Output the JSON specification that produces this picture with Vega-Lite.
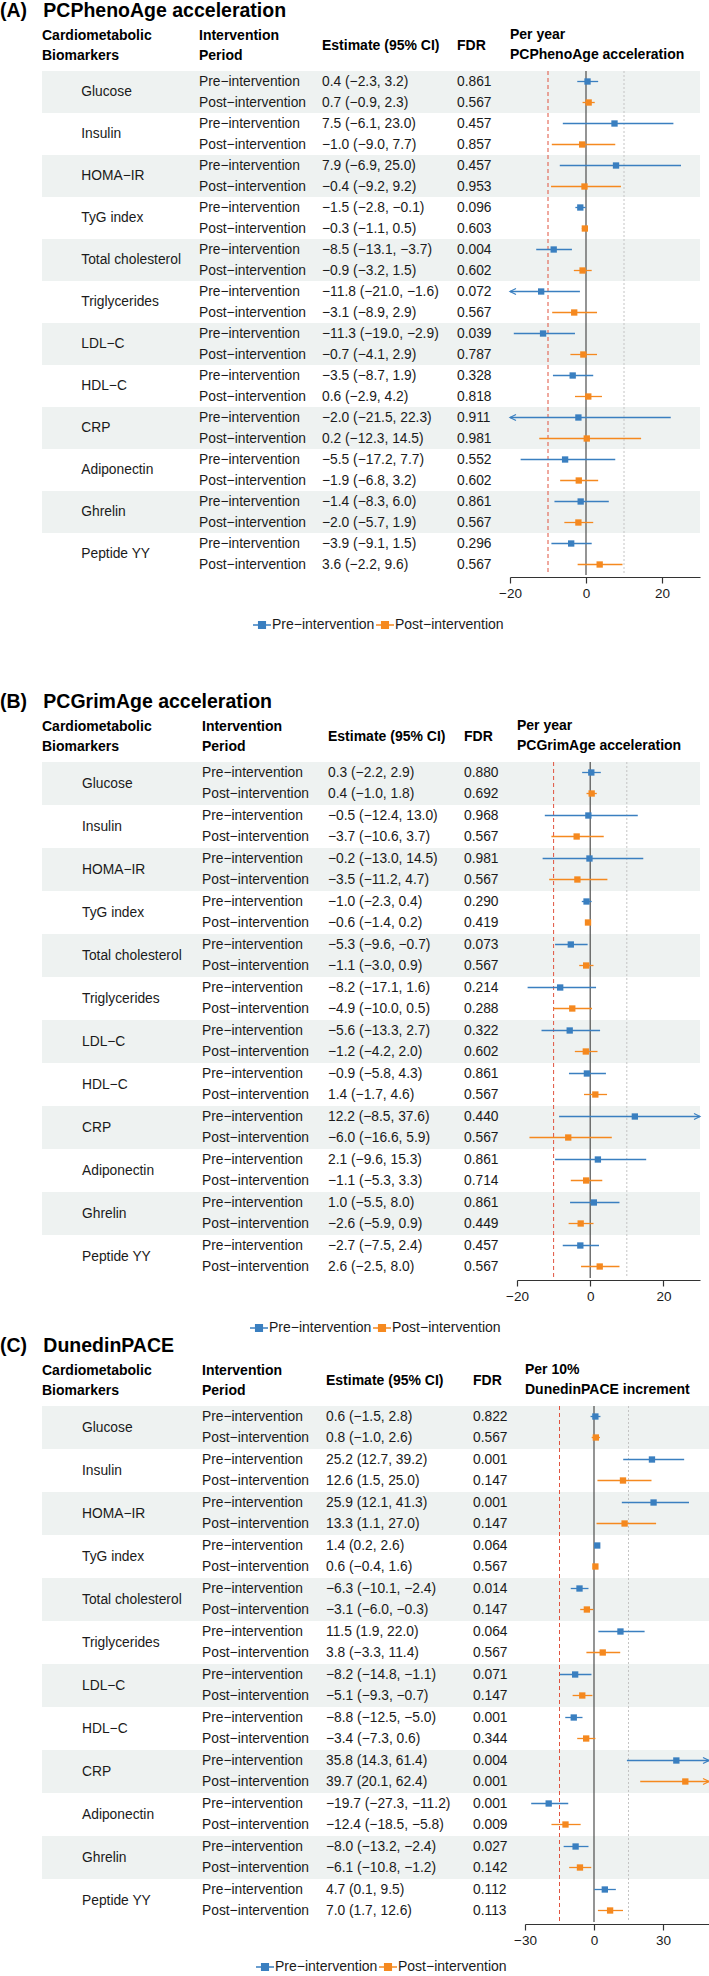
{
  "$schema": "https://vega.github.io/schema/vega-lite/v6.json",
  "padding": {"left": 0, "top": 0, "right": 0, "bottom": 0},
  "autosize": {"type": "pad"},
  "background": "white",
  "config": {
    "view": {"stroke": null},
    "axis": {"labelOverlap": false},
    "axisX": {"title": null, "grid": false, "domainColor": "#333333", "domainWidth": 1.2, "tickColor": "#333333", "tickWidth": 1.2, "tickSize": 6, "labelFontSize": 13.5, "labelFont": "Liberation Sans", "labelColor": "#1a1a1a", "labelPadding": 3, "offset": 2, "labelFlush": false, "labelOverlap": false}
  },
  "datasets": {
    "A": [
      {"biomarker": "Glucose", "period": "Pre−intervention", "estimate": 0.4, "lower": -2.3, "upper": 3.2, "ci": "0.4 (−2.3, 3.2)", "fdr": 0.861},
      {"biomarker": "Glucose", "period": "Post−intervention", "estimate": 0.7, "lower": -0.9, "upper": 2.3, "ci": "0.7 (−0.9, 2.3)", "fdr": 0.567},
      {"biomarker": "Insulin", "period": "Pre−intervention", "estimate": 7.5, "lower": -6.1, "upper": 23.0, "ci": "7.5 (−6.1, 23.0)", "fdr": 0.457},
      {"biomarker": "Insulin", "period": "Post−intervention", "estimate": -1.0, "lower": -9.0, "upper": 7.7, "ci": "−1.0 (−9.0, 7.7)", "fdr": 0.857},
      {"biomarker": "HOMA−IR", "period": "Pre−intervention", "estimate": 7.9, "lower": -6.9, "upper": 25.0, "ci": "7.9 (−6.9, 25.0)", "fdr": 0.457},
      {"biomarker": "HOMA−IR", "period": "Post−intervention", "estimate": -0.4, "lower": -9.2, "upper": 9.2, "ci": "−0.4 (−9.2, 9.2)", "fdr": 0.953},
      {"biomarker": "TyG index", "period": "Pre−intervention", "estimate": -1.5, "lower": -2.8, "upper": -0.1, "ci": "−1.5 (−2.8, −0.1)", "fdr": 0.096},
      {"biomarker": "TyG index", "period": "Post−intervention", "estimate": -0.3, "lower": -1.1, "upper": 0.5, "ci": "−0.3 (−1.1, 0.5)", "fdr": 0.603},
      {"biomarker": "Total cholesterol", "period": "Pre−intervention", "estimate": -8.5, "lower": -13.1, "upper": -3.7, "ci": "−8.5 (−13.1, −3.7)", "fdr": 0.004},
      {"biomarker": "Total cholesterol", "period": "Post−intervention", "estimate": -0.9, "lower": -3.2, "upper": 1.5, "ci": "−0.9 (−3.2, 1.5)", "fdr": 0.602},
      {"biomarker": "Triglycerides", "period": "Pre−intervention", "estimate": -11.8, "lower": -21.0, "upper": -1.6, "ci": "−11.8 (−21.0, −1.6)", "fdr": 0.072},
      {"biomarker": "Triglycerides", "period": "Post−intervention", "estimate": -3.1, "lower": -8.9, "upper": 2.9, "ci": "−3.1 (−8.9, 2.9)", "fdr": 0.567},
      {"biomarker": "LDL−C", "period": "Pre−intervention", "estimate": -11.3, "lower": -19.0, "upper": -2.9, "ci": "−11.3 (−19.0, −2.9)", "fdr": 0.039},
      {"biomarker": "LDL−C", "period": "Post−intervention", "estimate": -0.7, "lower": -4.1, "upper": 2.9, "ci": "−0.7 (−4.1, 2.9)", "fdr": 0.787},
      {"biomarker": "HDL−C", "period": "Pre−intervention", "estimate": -3.5, "lower": -8.7, "upper": 1.9, "ci": "−3.5 (−8.7, 1.9)", "fdr": 0.328},
      {"biomarker": "HDL−C", "period": "Post−intervention", "estimate": 0.6, "lower": -2.9, "upper": 4.2, "ci": "0.6 (−2.9, 4.2)", "fdr": 0.818},
      {"biomarker": "CRP", "period": "Pre−intervention", "estimate": -2.0, "lower": -21.5, "upper": 22.3, "ci": "−2.0 (−21.5, 22.3)", "fdr": 0.911},
      {"biomarker": "CRP", "period": "Post−intervention", "estimate": 0.2, "lower": -12.3, "upper": 14.5, "ci": "0.2 (−12.3, 14.5)", "fdr": 0.981},
      {"biomarker": "Adiponectin", "period": "Pre−intervention", "estimate": -5.5, "lower": -17.2, "upper": 7.7, "ci": "−5.5 (−17.2, 7.7)", "fdr": 0.552},
      {"biomarker": "Adiponectin", "period": "Post−intervention", "estimate": -1.9, "lower": -6.8, "upper": 3.2, "ci": "−1.9 (−6.8, 3.2)", "fdr": 0.602},
      {"biomarker": "Ghrelin", "period": "Pre−intervention", "estimate": -1.4, "lower": -8.3, "upper": 6.0, "ci": "−1.4 (−8.3, 6.0)", "fdr": 0.861},
      {"biomarker": "Ghrelin", "period": "Post−intervention", "estimate": -2.0, "lower": -5.7, "upper": 1.9, "ci": "−2.0 (−5.7, 1.9)", "fdr": 0.567},
      {"biomarker": "Peptide YY", "period": "Pre−intervention", "estimate": -3.9, "lower": -9.1, "upper": 1.5, "ci": "−3.9 (−9.1, 1.5)", "fdr": 0.296},
      {"biomarker": "Peptide YY", "period": "Post−intervention", "estimate": 3.6, "lower": -2.2, "upper": 9.6, "ci": "3.6 (−2.2, 9.6)", "fdr": 0.567}
    ],
    "B": [
      {"biomarker": "Glucose", "period": "Pre−intervention", "estimate": 0.3, "lower": -2.2, "upper": 2.9, "ci": "0.3 (−2.2, 2.9)", "fdr": 0.880},
      {"biomarker": "Glucose", "period": "Post−intervention", "estimate": 0.4, "lower": -1.0, "upper": 1.8, "ci": "0.4 (−1.0, 1.8)", "fdr": 0.692},
      {"biomarker": "Insulin", "period": "Pre−intervention", "estimate": -0.5, "lower": -12.4, "upper": 13.0, "ci": "−0.5 (−12.4, 13.0)", "fdr": 0.968},
      {"biomarker": "Insulin", "period": "Post−intervention", "estimate": -3.7, "lower": -10.6, "upper": 3.7, "ci": "−3.7 (−10.6, 3.7)", "fdr": 0.567},
      {"biomarker": "HOMA−IR", "period": "Pre−intervention", "estimate": -0.2, "lower": -13.0, "upper": 14.5, "ci": "−0.2 (−13.0, 14.5)", "fdr": 0.981},
      {"biomarker": "HOMA−IR", "period": "Post−intervention", "estimate": -3.5, "lower": -11.2, "upper": 4.7, "ci": "−3.5 (−11.2, 4.7)", "fdr": 0.567},
      {"biomarker": "TyG index", "period": "Pre−intervention", "estimate": -1.0, "lower": -2.3, "upper": 0.4, "ci": "−1.0 (−2.3, 0.4)", "fdr": 0.290},
      {"biomarker": "TyG index", "period": "Post−intervention", "estimate": -0.6, "lower": -1.4, "upper": 0.2, "ci": "−0.6 (−1.4, 0.2)", "fdr": 0.419},
      {"biomarker": "Total cholesterol", "period": "Pre−intervention", "estimate": -5.3, "lower": -9.6, "upper": -0.7, "ci": "−5.3 (−9.6, −0.7)", "fdr": 0.073},
      {"biomarker": "Total cholesterol", "period": "Post−intervention", "estimate": -1.1, "lower": -3.0, "upper": 0.9, "ci": "−1.1 (−3.0, 0.9)", "fdr": 0.567},
      {"biomarker": "Triglycerides", "period": "Pre−intervention", "estimate": -8.2, "lower": -17.1, "upper": 1.6, "ci": "−8.2 (−17.1, 1.6)", "fdr": 0.214},
      {"biomarker": "Triglycerides", "period": "Post−intervention", "estimate": -4.9, "lower": -10.0, "upper": 0.5, "ci": "−4.9 (−10.0, 0.5)", "fdr": 0.288},
      {"biomarker": "LDL−C", "period": "Pre−intervention", "estimate": -5.6, "lower": -13.3, "upper": 2.7, "ci": "−5.6 (−13.3, 2.7)", "fdr": 0.322},
      {"biomarker": "LDL−C", "period": "Post−intervention", "estimate": -1.2, "lower": -4.2, "upper": 2.0, "ci": "−1.2 (−4.2, 2.0)", "fdr": 0.602},
      {"biomarker": "HDL−C", "period": "Pre−intervention", "estimate": -0.9, "lower": -5.8, "upper": 4.3, "ci": "−0.9 (−5.8, 4.3)", "fdr": 0.861},
      {"biomarker": "HDL−C", "period": "Post−intervention", "estimate": 1.4, "lower": -1.7, "upper": 4.6, "ci": "1.4 (−1.7, 4.6)", "fdr": 0.567},
      {"biomarker": "CRP", "period": "Pre−intervention", "estimate": 12.2, "lower": -8.5, "upper": 37.6, "ci": "12.2 (−8.5, 37.6)", "fdr": 0.440},
      {"biomarker": "CRP", "period": "Post−intervention", "estimate": -6.0, "lower": -16.6, "upper": 5.9, "ci": "−6.0 (−16.6, 5.9)", "fdr": 0.567},
      {"biomarker": "Adiponectin", "period": "Pre−intervention", "estimate": 2.1, "lower": -9.6, "upper": 15.3, "ci": "2.1 (−9.6, 15.3)", "fdr": 0.861},
      {"biomarker": "Adiponectin", "period": "Post−intervention", "estimate": -1.1, "lower": -5.3, "upper": 3.3, "ci": "−1.1 (−5.3, 3.3)", "fdr": 0.714},
      {"biomarker": "Ghrelin", "period": "Pre−intervention", "estimate": 1.0, "lower": -5.5, "upper": 8.0, "ci": "1.0 (−5.5, 8.0)", "fdr": 0.861},
      {"biomarker": "Ghrelin", "period": "Post−intervention", "estimate": -2.6, "lower": -5.9, "upper": 0.9, "ci": "−2.6 (−5.9, 0.9)", "fdr": 0.449},
      {"biomarker": "Peptide YY", "period": "Pre−intervention", "estimate": -2.7, "lower": -7.5, "upper": 2.4, "ci": "−2.7 (−7.5, 2.4)", "fdr": 0.457},
      {"biomarker": "Peptide YY", "period": "Post−intervention", "estimate": 2.6, "lower": -2.5, "upper": 8.0, "ci": "2.6 (−2.5, 8.0)", "fdr": 0.567}
    ],
    "C": [
      {"biomarker": "Glucose", "period": "Pre−intervention", "estimate": 0.6, "lower": -1.5, "upper": 2.8, "ci": "0.6 (−1.5, 2.8)", "fdr": 0.822},
      {"biomarker": "Glucose", "period": "Post−intervention", "estimate": 0.8, "lower": -1.0, "upper": 2.6, "ci": "0.8 (−1.0, 2.6)", "fdr": 0.567},
      {"biomarker": "Insulin", "period": "Pre−intervention", "estimate": 25.2, "lower": 12.7, "upper": 39.2, "ci": "25.2 (12.7, 39.2)", "fdr": 0.001},
      {"biomarker": "Insulin", "period": "Post−intervention", "estimate": 12.6, "lower": 1.5, "upper": 25.0, "ci": "12.6 (1.5, 25.0)", "fdr": 0.147},
      {"biomarker": "HOMA−IR", "period": "Pre−intervention", "estimate": 25.9, "lower": 12.1, "upper": 41.3, "ci": "25.9 (12.1, 41.3)", "fdr": 0.001},
      {"biomarker": "HOMA−IR", "period": "Post−intervention", "estimate": 13.3, "lower": 1.1, "upper": 27.0, "ci": "13.3 (1.1, 27.0)", "fdr": 0.147},
      {"biomarker": "TyG index", "period": "Pre−intervention", "estimate": 1.4, "lower": 0.2, "upper": 2.6, "ci": "1.4 (0.2, 2.6)", "fdr": 0.064},
      {"biomarker": "TyG index", "period": "Post−intervention", "estimate": 0.6, "lower": -0.4, "upper": 1.6, "ci": "0.6 (−0.4, 1.6)", "fdr": 0.567},
      {"biomarker": "Total cholesterol", "period": "Pre−intervention", "estimate": -6.3, "lower": -10.1, "upper": -2.4, "ci": "−6.3 (−10.1, −2.4)", "fdr": 0.014},
      {"biomarker": "Total cholesterol", "period": "Post−intervention", "estimate": -3.1, "lower": -6.0, "upper": -0.3, "ci": "−3.1 (−6.0, −0.3)", "fdr": 0.147},
      {"biomarker": "Triglycerides", "period": "Pre−intervention", "estimate": 11.5, "lower": 1.9, "upper": 22.0, "ci": "11.5 (1.9, 22.0)", "fdr": 0.064},
      {"biomarker": "Triglycerides", "period": "Post−intervention", "estimate": 3.8, "lower": -3.3, "upper": 11.4, "ci": "3.8 (−3.3, 11.4)", "fdr": 0.567},
      {"biomarker": "LDL−C", "period": "Pre−intervention", "estimate": -8.2, "lower": -14.8, "upper": -1.1, "ci": "−8.2 (−14.8, −1.1)", "fdr": 0.071},
      {"biomarker": "LDL−C", "period": "Post−intervention", "estimate": -5.1, "lower": -9.3, "upper": -0.7, "ci": "−5.1 (−9.3, −0.7)", "fdr": 0.147},
      {"biomarker": "HDL−C", "period": "Pre−intervention", "estimate": -8.8, "lower": -12.5, "upper": -5.0, "ci": "−8.8 (−12.5, −5.0)", "fdr": 0.001},
      {"biomarker": "HDL−C", "period": "Post−intervention", "estimate": -3.4, "lower": -7.3, "upper": 0.6, "ci": "−3.4 (−7.3, 0.6)", "fdr": 0.344},
      {"biomarker": "CRP", "period": "Pre−intervention", "estimate": 35.8, "lower": 14.3, "upper": 61.4, "ci": "35.8 (14.3, 61.4)", "fdr": 0.004},
      {"biomarker": "CRP", "period": "Post−intervention", "estimate": 39.7, "lower": 20.1, "upper": 62.4, "ci": "39.7 (20.1, 62.4)", "fdr": 0.001},
      {"biomarker": "Adiponectin", "period": "Pre−intervention", "estimate": -19.7, "lower": -27.3, "upper": -11.2, "ci": "−19.7 (−27.3, −11.2)", "fdr": 0.001},
      {"biomarker": "Adiponectin", "period": "Post−intervention", "estimate": -12.4, "lower": -18.5, "upper": -5.8, "ci": "−12.4 (−18.5, −5.8)", "fdr": 0.009},
      {"biomarker": "Ghrelin", "period": "Pre−intervention", "estimate": -8.0, "lower": -13.2, "upper": -2.4, "ci": "−8.0 (−13.2, −2.4)", "fdr": 0.027},
      {"biomarker": "Ghrelin", "period": "Post−intervention", "estimate": -6.1, "lower": -10.8, "upper": -1.2, "ci": "−6.1 (−10.8, −1.2)", "fdr": 0.142},
      {"biomarker": "Peptide YY", "period": "Pre−intervention", "estimate": 4.7, "lower": 0.1, "upper": 9.5, "ci": "4.7 (0.1, 9.5)", "fdr": 0.112},
      {"biomarker": "Peptide YY", "period": "Post−intervention", "estimate": 7.0, "lower": 1.7, "upper": 12.6, "ci": "7.0 (1.7, 12.6)", "fdr": 0.113}
    ]
  },
  "bounds": "full",
  "spacing": 59,
  "resolve": {"scale": {"color": "independent"}, "legend": {"color": "independent"}},
  "vconcat": [
    {
      "data": {"name": "A"},
      "title": {"text": "(A)\u00a0\u00a0\u00a0PCPhenoAge acceleration", "anchor": "start", "frame": "group", "dx": -42, "offset": -12, "font": "Liberation Sans", "fontSize": 19.5, "fontWeight": "bold", "color": "#000000", "baseline": "bottom"},
      "bounds": "flush",
      "spacing": 0,
      "resolve": {"scale": {"color": "independent"}, "legend": {"color": "independent"}},
      "hconcat": [
        {
          "width": 157, "height": 504,
          "title": {"text": ["Cardiometabolic", "Biomarkers"], "anchor": "start", "frame": "group", "offset": -6, "font": "Liberation Sans", "fontSize": 14, "fontWeight": "bold", "color": "#000000", "baseline": "bottom", "lineHeight": 20},
          "layer": [
            {"transform": [{"filter": {"field": "biomarker", "oneOf": ["Glucose", "HOMA−IR", "Total cholesterol", "LDL−C", "CRP", "Ghrelin"]}}, {"filter": {"field": "period", "equal": "Pre−intervention"}}],
             "mark": {"type": "rect", "color": "#eef2f1"},
             "encoding": {"x": {"datum": 0, "type": "quantitative", "scale": {"domain": [0, 1], "nice": false}, "axis": null}, "x2": {"datum": 1}, "y": {"field": "biomarker", "type": "nominal", "axis": null, "scale": {"domain": ["Glucose", "Insulin", "HOMA−IR", "TyG index", "Total cholesterol", "Triglycerides", "LDL−C", "HDL−C", "CRP", "Adiponectin", "Ghrelin", "Peptide YY"], "paddingInner": 0, "paddingOuter": 0}}}},
            {"transform": [{"filter": {"field": "period", "equal": "Pre−intervention"}}],
             "mark": {"type": "text", "align": "left", "baseline": "middle", "font": "Liberation Sans", "fontSize": 13.8, "color": "#1a1a1a"},
             "encoding": {"x": {"datum": 0.25, "type": "quantitative", "scale": {"domain": [0, 1], "nice": false}, "axis": null}, "y": {"field": "biomarker", "type": "nominal", "axis": null, "scale": {"domain": ["Glucose", "Insulin", "HOMA−IR", "TyG index", "Total cholesterol", "Triglycerides", "LDL−C", "HDL−C", "CRP", "Adiponectin", "Ghrelin", "Peptide YY"], "paddingInner": 0, "paddingOuter": 0}}, "text": {"field": "biomarker", "type": "nominal"}}}
          ]
        },
        {
          "width": 123, "height": 504,
          "title": {"text": ["Intervention", "Period"], "anchor": "start", "frame": "group", "offset": -6, "font": "Liberation Sans", "fontSize": 14, "fontWeight": "bold", "color": "#000000", "baseline": "bottom", "lineHeight": 20},
          "layer": [
            {"transform": [{"filter": {"field": "biomarker", "oneOf": ["Glucose", "HOMA−IR", "Total cholesterol", "LDL−C", "CRP", "Ghrelin"]}}, {"filter": {"field": "period", "equal": "Pre−intervention"}}],
             "mark": {"type": "rect", "color": "#eef2f1"},
             "encoding": {"x": {"datum": 0, "type": "quantitative", "scale": {"domain": [0, 1], "nice": false}, "axis": null}, "x2": {"datum": 1}, "y": {"field": "biomarker", "type": "nominal", "axis": null, "scale": {"domain": ["Glucose", "Insulin", "HOMA−IR", "TyG index", "Total cholesterol", "Triglycerides", "LDL−C", "HDL−C", "CRP", "Adiponectin", "Ghrelin", "Peptide YY"], "paddingInner": 0, "paddingOuter": 0}}}},
            {"mark": {"type": "text", "align": "left", "baseline": "middle", "font": "Liberation Sans", "fontSize": 13.8, "color": "#1a1a1a"},
             "encoding": {"x": {"datum": 0, "type": "quantitative", "scale": {"domain": [0, 1], "nice": false}, "axis": null}, "y": {"field": "biomarker", "type": "nominal", "axis": null, "scale": {"domain": ["Glucose", "Insulin", "HOMA−IR", "TyG index", "Total cholesterol", "Triglycerides", "LDL−C", "HDL−C", "CRP", "Adiponectin", "Ghrelin", "Peptide YY"], "paddingInner": 0, "paddingOuter": 0}}, "yOffset": {"field": "period", "type": "nominal", "scale": {"domain": ["Pre−intervention", "Post−intervention"], "paddingInner": 0, "paddingOuter": 0}}, "text": {"field": "period", "type": "nominal"}}}
          ]
        },
        {
          "width": 135, "height": 504,
          "title": {"text": "Estimate (95% CI)", "anchor": "start", "frame": "group", "offset": 4, "font": "Liberation Sans", "fontSize": 14, "fontWeight": "bold", "color": "#000000", "baseline": "bottom"},
          "layer": [
            {"transform": [{"filter": {"field": "biomarker", "oneOf": ["Glucose", "HOMA−IR", "Total cholesterol", "LDL−C", "CRP", "Ghrelin"]}}, {"filter": {"field": "period", "equal": "Pre−intervention"}}],
             "mark": {"type": "rect", "color": "#eef2f1"},
             "encoding": {"x": {"datum": 0, "type": "quantitative", "scale": {"domain": [0, 1], "nice": false}, "axis": null}, "x2": {"datum": 1}, "y": {"field": "biomarker", "type": "nominal", "axis": null, "scale": {"domain": ["Glucose", "Insulin", "HOMA−IR", "TyG index", "Total cholesterol", "Triglycerides", "LDL−C", "HDL−C", "CRP", "Adiponectin", "Ghrelin", "Peptide YY"], "paddingInner": 0, "paddingOuter": 0}}}},
            {"mark": {"type": "text", "align": "left", "baseline": "middle", "font": "Liberation Sans", "fontSize": 13.8, "color": "#1a1a1a"},
             "encoding": {"x": {"datum": 0, "type": "quantitative", "scale": {"domain": [0, 1], "nice": false}, "axis": null}, "y": {"field": "biomarker", "type": "nominal", "axis": null, "scale": {"domain": ["Glucose", "Insulin", "HOMA−IR", "TyG index", "Total cholesterol", "Triglycerides", "LDL−C", "HDL−C", "CRP", "Adiponectin", "Ghrelin", "Peptide YY"], "paddingInner": 0, "paddingOuter": 0}}, "yOffset": {"field": "period", "type": "nominal", "scale": {"domain": ["Pre−intervention", "Post−intervention"], "paddingInner": 0, "paddingOuter": 0}}, "text": {"field": "ci", "type": "nominal"}}}
          ]
        },
        {
          "width": 53, "height": 504,
          "title": {"text": "FDR", "anchor": "start", "frame": "group", "offset": 4, "font": "Liberation Sans", "fontSize": 14, "fontWeight": "bold", "color": "#000000", "baseline": "bottom"},
          "layer": [
            {"transform": [{"filter": {"field": "biomarker", "oneOf": ["Glucose", "HOMA−IR", "Total cholesterol", "LDL−C", "CRP", "Ghrelin"]}}, {"filter": {"field": "period", "equal": "Pre−intervention"}}],
             "mark": {"type": "rect", "color": "#eef2f1"},
             "encoding": {"x": {"datum": 0, "type": "quantitative", "scale": {"domain": [0, 1], "nice": false}, "axis": null}, "x2": {"datum": 1}, "y": {"field": "biomarker", "type": "nominal", "axis": null, "scale": {"domain": ["Glucose", "Insulin", "HOMA−IR", "TyG index", "Total cholesterol", "Triglycerides", "LDL−C", "HDL−C", "CRP", "Adiponectin", "Ghrelin", "Peptide YY"], "paddingInner": 0, "paddingOuter": 0}}}},
            {"mark": {"type": "text", "align": "left", "baseline": "middle", "font": "Liberation Sans", "fontSize": 13.8, "color": "#1a1a1a"},
             "encoding": {"x": {"datum": 0, "type": "quantitative", "scale": {"domain": [0, 1], "nice": false}, "axis": null}, "y": {"field": "biomarker", "type": "nominal", "axis": null, "scale": {"domain": ["Glucose", "Insulin", "HOMA−IR", "TyG index", "Total cholesterol", "Triglycerides", "LDL−C", "HDL−C", "CRP", "Adiponectin", "Ghrelin", "Peptide YY"], "paddingInner": 0, "paddingOuter": 0}}, "yOffset": {"field": "period", "type": "nominal", "scale": {"domain": ["Pre−intervention", "Post−intervention"], "paddingInner": 0, "paddingOuter": 0}}, "text": {"field": "fdr", "type": "quantitative", "format": ".3f"}}}
          ]
        },
        {
          "width": 190, "height": 504,
          "title": {"text": ["Per year", "PCPhenoAge acceleration"], "anchor": "start", "frame": "group", "offset": -6, "font": "Liberation Sans", "fontSize": 14, "fontWeight": "bold", "color": "#000000", "baseline": "bottom", "lineHeight": 20},
          "layer": [
            {"transform": [{"filter": {"field": "biomarker", "oneOf": ["Glucose", "HOMA−IR", "Total cholesterol", "LDL−C", "CRP", "Ghrelin"]}}, {"filter": {"field": "period", "equal": "Pre−intervention"}}],
             "mark": {"type": "rect", "color": "#eef2f1"},
             "encoding": {"x": {"datum": -20, "type": "quantitative", "scale": {"domain": [-20, 30], "nice": false, "zero": false, "clamp": true}, "axis": {"values": [-20, -10, 0, 10, 20, 30], "labelOverlap": false}}, "x2": {"datum": 30}, "y": {"field": "biomarker", "type": "nominal", "axis": null, "scale": {"domain": ["Glucose", "Insulin", "HOMA−IR", "TyG index", "Total cholesterol", "Triglycerides", "LDL−C", "HDL−C", "CRP", "Adiponectin", "Ghrelin", "Peptide YY"], "paddingInner": 0, "paddingOuter": 0}}}},
            {"transform": [{"aggregate": [{"op": "count", "as": "n"}]}], "mark": {"type": "rule", "color": "#e0533f", "strokeWidth": 1, "strokeDash": [4, 3]}, "encoding": {"x": {"datum": -10, "type": "quantitative"}}},
            {"transform": [{"aggregate": [{"op": "count", "as": "n"}]}], "mark": {"type": "rule", "color": "#c4c4c4", "strokeWidth": 1, "strokeDash": [2, 2]}, "encoding": {"x": {"datum": 10, "type": "quantitative"}}},
            {"transform": [{"aggregate": [{"op": "count", "as": "n"}]}], "mark": {"type": "rule", "color": "#4d4d4d", "strokeWidth": 1.2}, "encoding": {"x": {"datum": 0, "type": "quantitative"}}},
            {"mark": {"type": "point", "shape": "square", "filled": true, "opacity": 1, "size": 40},
             "encoding": {"x": {"field": "estimate", "type": "quantitative", "scale": {"domain": [-20, 30], "nice": false, "zero": false, "clamp": true}, "axis": {"values": [-20, -10, 0, 10, 20, 30], "labelOverlap": false}}, "y": {"field": "biomarker", "type": "nominal", "axis": null, "scale": {"domain": ["Glucose", "Insulin", "HOMA−IR", "TyG index", "Total cholesterol", "Triglycerides", "LDL−C", "HDL−C", "CRP", "Adiponectin", "Ghrelin", "Peptide YY"], "paddingInner": 0, "paddingOuter": 0}}, "yOffset": {"field": "period", "type": "nominal", "scale": {"domain": ["Pre−intervention", "Post−intervention"], "paddingInner": 0, "paddingOuter": 0}}, "color": {"field": "period", "type": "nominal", "scale": {"domain": ["Pre−intervention", "Post−intervention"], "range": ["#3a7fc0", "#f5891f"]}, "legend": {"orient": "none", "legendX": -257, "legendY": 545, "direction": "horizontal", "title": null, "symbolType": "M-1,-0.09H1V0.09H-1Z M-0.45,-0.45H0.45V0.45H-0.45Z", "symbolSize": 324, "symbolStrokeWidth": 0, "symbolOpacity": 1, "labelFont": "Liberation Sans", "labelFontSize": 14, "labelColor": "#1a1a1a", "labelOffset": 1, "columnPadding": 1}}}},
            {"mark": {"type": "rule", "strokeWidth": 1.3},
             "encoding": {"x": {"field": "lower", "type": "quantitative"}, "x2": {"field": "upper"}, "y": {"field": "biomarker", "type": "nominal", "axis": null, "scale": {"domain": ["Glucose", "Insulin", "HOMA−IR", "TyG index", "Total cholesterol", "Triglycerides", "LDL−C", "HDL−C", "CRP", "Adiponectin", "Ghrelin", "Peptide YY"], "paddingInner": 0, "paddingOuter": 0}}, "yOffset": {"field": "period", "type": "nominal", "scale": {"domain": ["Pre−intervention", "Post−intervention"], "paddingInner": 0, "paddingOuter": 0}}, "color": {"field": "period", "type": "nominal", "scale": {"domain": ["Pre−intervention", "Post−intervention"], "range": ["#3a7fc0", "#f5891f"]}}}},
            {"transform": [{"filter": "datum.lower < -20"}],
             "mark": {"type": "point", "shape": "M2,-1L0,0L2,1", "filled": false, "opacity": 1, "size": 36, "strokeWidth": 1.2},
             "encoding": {"x": {"field": "lower", "type": "quantitative"}, "y": {"field": "biomarker", "type": "nominal", "axis": null, "scale": {"domain": ["Glucose", "Insulin", "HOMA−IR", "TyG index", "Total cholesterol", "Triglycerides", "LDL−C", "HDL−C", "CRP", "Adiponectin", "Ghrelin", "Peptide YY"], "paddingInner": 0, "paddingOuter": 0}}, "yOffset": {"field": "period", "type": "nominal", "scale": {"domain": ["Pre−intervention", "Post−intervention"], "paddingInner": 0, "paddingOuter": 0}}, "color": {"field": "period", "type": "nominal", "scale": {"domain": ["Pre−intervention", "Post−intervention"], "range": ["#3a7fc0", "#f5891f"]}}}}
          ]
        }
      ]
    },
    {
      "bounds": "full",
      "spacing": 0,
      "resolve": {"scale": {"color": "independent"}, "legend": {"color": "independent"}},
      "vconcat": [
        {
          "data": {"name": "B"},
          "title": {"text": "(B)\u00a0\u00a0\u00a0PCGrimAge acceleration", "anchor": "start", "frame": "group", "dx": -42, "offset": -12, "font": "Liberation Sans", "fontSize": 19.5, "fontWeight": "bold", "color": "#000000", "baseline": "bottom"},
          "bounds": "flush",
          "spacing": 0,
          "resolve": {"scale": {"color": "independent"}, "legend": {"color": "independent"}},
          "hconcat": [
            {
              "width": 160, "height": 516,
              "title": {"text": ["Cardiometabolic", "Biomarkers"], "anchor": "start", "frame": "group", "offset": -6, "font": "Liberation Sans", "fontSize": 14, "fontWeight": "bold", "color": "#000000", "baseline": "bottom", "lineHeight": 20},
              "layer": [
                {"transform": [{"filter": {"field": "biomarker", "oneOf": ["Glucose", "HOMA−IR", "Total cholesterol", "LDL−C", "CRP", "Ghrelin"]}}, {"filter": {"field": "period", "equal": "Pre−intervention"}}],
                 "mark": {"type": "rect", "color": "#eef2f1"},
                 "encoding": {"x": {"datum": 0, "type": "quantitative", "scale": {"domain": [0, 1], "nice": false}, "axis": null}, "x2": {"datum": 1}, "y": {"field": "biomarker", "type": "nominal", "axis": null, "scale": {"domain": ["Glucose", "Insulin", "HOMA−IR", "TyG index", "Total cholesterol", "Triglycerides", "LDL−C", "HDL−C", "CRP", "Adiponectin", "Ghrelin", "Peptide YY"], "paddingInner": 0, "paddingOuter": 0}}}},
                {"transform": [{"filter": {"field": "period", "equal": "Pre−intervention"}}],
                 "mark": {"type": "text", "align": "left", "baseline": "middle", "font": "Liberation Sans", "fontSize": 13.8, "color": "#1a1a1a"},
                 "encoding": {"x": {"datum": 0.25, "type": "quantitative", "scale": {"domain": [0, 1], "nice": false}, "axis": null}, "y": {"field": "biomarker", "type": "nominal", "axis": null, "scale": {"domain": ["Glucose", "Insulin", "HOMA−IR", "TyG index", "Total cholesterol", "Triglycerides", "LDL−C", "HDL−C", "CRP", "Adiponectin", "Ghrelin", "Peptide YY"], "paddingInner": 0, "paddingOuter": 0}}, "text": {"field": "biomarker", "type": "nominal"}}}
              ]
            },
            {
              "width": 126, "height": 516,
              "title": {"text": ["Intervention", "Period"], "anchor": "start", "frame": "group", "offset": -6, "font": "Liberation Sans", "fontSize": 14, "fontWeight": "bold", "color": "#000000", "baseline": "bottom", "lineHeight": 20},
              "layer": [
                {"transform": [{"filter": {"field": "biomarker", "oneOf": ["Glucose", "HOMA−IR", "Total cholesterol", "LDL−C", "CRP", "Ghrelin"]}}, {"filter": {"field": "period", "equal": "Pre−intervention"}}],
                 "mark": {"type": "rect", "color": "#eef2f1"},
                 "encoding": {"x": {"datum": 0, "type": "quantitative", "scale": {"domain": [0, 1], "nice": false}, "axis": null}, "x2": {"datum": 1}, "y": {"field": "biomarker", "type": "nominal", "axis": null, "scale": {"domain": ["Glucose", "Insulin", "HOMA−IR", "TyG index", "Total cholesterol", "Triglycerides", "LDL−C", "HDL−C", "CRP", "Adiponectin", "Ghrelin", "Peptide YY"], "paddingInner": 0, "paddingOuter": 0}}}},
                {"mark": {"type": "text", "align": "left", "baseline": "middle", "font": "Liberation Sans", "fontSize": 13.8, "color": "#1a1a1a"},
                 "encoding": {"x": {"datum": 0, "type": "quantitative", "scale": {"domain": [0, 1], "nice": false}, "axis": null}, "y": {"field": "biomarker", "type": "nominal", "axis": null, "scale": {"domain": ["Glucose", "Insulin", "HOMA−IR", "TyG index", "Total cholesterol", "Triglycerides", "LDL−C", "HDL−C", "CRP", "Adiponectin", "Ghrelin", "Peptide YY"], "paddingInner": 0, "paddingOuter": 0}}, "yOffset": {"field": "period", "type": "nominal", "scale": {"domain": ["Pre−intervention", "Post−intervention"], "paddingInner": 0, "paddingOuter": 0}}, "text": {"field": "period", "type": "nominal"}}}
              ]
            },
            {
              "width": 136, "height": 516,
              "title": {"text": "Estimate (95% CI)", "anchor": "start", "frame": "group", "offset": 4, "font": "Liberation Sans", "fontSize": 14, "fontWeight": "bold", "color": "#000000", "baseline": "bottom"},
              "layer": [
                {"transform": [{"filter": {"field": "biomarker", "oneOf": ["Glucose", "HOMA−IR", "Total cholesterol", "LDL−C", "CRP", "Ghrelin"]}}, {"filter": {"field": "period", "equal": "Pre−intervention"}}],
                 "mark": {"type": "rect", "color": "#eef2f1"},
                 "encoding": {"x": {"datum": 0, "type": "quantitative", "scale": {"domain": [0, 1], "nice": false}, "axis": null}, "x2": {"datum": 1}, "y": {"field": "biomarker", "type": "nominal", "axis": null, "scale": {"domain": ["Glucose", "Insulin", "HOMA−IR", "TyG index", "Total cholesterol", "Triglycerides", "LDL−C", "HDL−C", "CRP", "Adiponectin", "Ghrelin", "Peptide YY"], "paddingInner": 0, "paddingOuter": 0}}}},
                {"mark": {"type": "text", "align": "left", "baseline": "middle", "font": "Liberation Sans", "fontSize": 13.8, "color": "#1a1a1a"},
                 "encoding": {"x": {"datum": 0, "type": "quantitative", "scale": {"domain": [0, 1], "nice": false}, "axis": null}, "y": {"field": "biomarker", "type": "nominal", "axis": null, "scale": {"domain": ["Glucose", "Insulin", "HOMA−IR", "TyG index", "Total cholesterol", "Triglycerides", "LDL−C", "HDL−C", "CRP", "Adiponectin", "Ghrelin", "Peptide YY"], "paddingInner": 0, "paddingOuter": 0}}, "yOffset": {"field": "period", "type": "nominal", "scale": {"domain": ["Pre−intervention", "Post−intervention"], "paddingInner": 0, "paddingOuter": 0}}, "text": {"field": "ci", "type": "nominal"}}}
              ]
            },
            {
              "width": 53, "height": 516,
              "title": {"text": "FDR", "anchor": "start", "frame": "group", "offset": 4, "font": "Liberation Sans", "fontSize": 14, "fontWeight": "bold", "color": "#000000", "baseline": "bottom"},
              "layer": [
                {"transform": [{"filter": {"field": "biomarker", "oneOf": ["Glucose", "HOMA−IR", "Total cholesterol", "LDL−C", "CRP", "Ghrelin"]}}, {"filter": {"field": "period", "equal": "Pre−intervention"}}],
                 "mark": {"type": "rect", "color": "#eef2f1"},
                 "encoding": {"x": {"datum": 0, "type": "quantitative", "scale": {"domain": [0, 1], "nice": false}, "axis": null}, "x2": {"datum": 1}, "y": {"field": "biomarker", "type": "nominal", "axis": null, "scale": {"domain": ["Glucose", "Insulin", "HOMA−IR", "TyG index", "Total cholesterol", "Triglycerides", "LDL−C", "HDL−C", "CRP", "Adiponectin", "Ghrelin", "Peptide YY"], "paddingInner": 0, "paddingOuter": 0}}}},
                {"mark": {"type": "text", "align": "left", "baseline": "middle", "font": "Liberation Sans", "fontSize": 13.8, "color": "#1a1a1a"},
                 "encoding": {"x": {"datum": 0, "type": "quantitative", "scale": {"domain": [0, 1], "nice": false}, "axis": null}, "y": {"field": "biomarker", "type": "nominal", "axis": null, "scale": {"domain": ["Glucose", "Insulin", "HOMA−IR", "TyG index", "Total cholesterol", "Triglycerides", "LDL−C", "HDL−C", "CRP", "Adiponectin", "Ghrelin", "Peptide YY"], "paddingInner": 0, "paddingOuter": 0}}, "yOffset": {"field": "period", "type": "nominal", "scale": {"domain": ["Pre−intervention", "Post−intervention"], "paddingInner": 0, "paddingOuter": 0}}, "text": {"field": "fdr", "type": "quantitative", "format": ".3f"}}}
              ]
            },
            {
              "width": 183, "height": 516,
              "title": {"text": ["Per year", "PCGrimAge acceleration"], "anchor": "start", "frame": "group", "offset": -6, "font": "Liberation Sans", "fontSize": 14, "fontWeight": "bold", "color": "#000000", "baseline": "bottom", "lineHeight": 20},
              "layer": [
                {"transform": [{"filter": {"field": "biomarker", "oneOf": ["Glucose", "HOMA−IR", "Total cholesterol", "LDL−C", "CRP", "Ghrelin"]}}, {"filter": {"field": "period", "equal": "Pre−intervention"}}],
                 "mark": {"type": "rect", "color": "#eef2f1"},
                 "encoding": {"x": {"datum": -20, "type": "quantitative", "scale": {"domain": [-20, 30], "nice": false, "zero": false, "clamp": true}, "axis": {"values": [-20, -10, 0, 10, 20, 30], "labelOverlap": false}}, "x2": {"datum": 30}, "y": {"field": "biomarker", "type": "nominal", "axis": null, "scale": {"domain": ["Glucose", "Insulin", "HOMA−IR", "TyG index", "Total cholesterol", "Triglycerides", "LDL−C", "HDL−C", "CRP", "Adiponectin", "Ghrelin", "Peptide YY"], "paddingInner": 0, "paddingOuter": 0}}}},
                {"transform": [{"aggregate": [{"op": "count", "as": "n"}]}], "mark": {"type": "rule", "color": "#e0533f", "strokeWidth": 1, "strokeDash": [4, 3]}, "encoding": {"x": {"datum": -10, "type": "quantitative"}}},
                {"transform": [{"aggregate": [{"op": "count", "as": "n"}]}], "mark": {"type": "rule", "color": "#c4c4c4", "strokeWidth": 1, "strokeDash": [2, 2]}, "encoding": {"x": {"datum": 10, "type": "quantitative"}}},
                {"transform": [{"aggregate": [{"op": "count", "as": "n"}]}], "mark": {"type": "rule", "color": "#4d4d4d", "strokeWidth": 1.2}, "encoding": {"x": {"datum": 0, "type": "quantitative"}}},
                {"mark": {"type": "point", "shape": "square", "filled": true, "opacity": 1, "size": 40},
                 "encoding": {"x": {"field": "estimate", "type": "quantitative", "scale": {"domain": [-20, 30], "nice": false, "zero": false, "clamp": true}, "axis": {"values": [-20, -10, 0, 10, 20, 30], "labelOverlap": false}}, "y": {"field": "biomarker", "type": "nominal", "axis": null, "scale": {"domain": ["Glucose", "Insulin", "HOMA−IR", "TyG index", "Total cholesterol", "Triglycerides", "LDL−C", "HDL−C", "CRP", "Adiponectin", "Ghrelin", "Peptide YY"], "paddingInner": 0, "paddingOuter": 0}}, "yOffset": {"field": "period", "type": "nominal", "scale": {"domain": ["Pre−intervention", "Post−intervention"], "paddingInner": 0, "paddingOuter": 0}}, "color": {"field": "period", "type": "nominal", "scale": {"domain": ["Pre−intervention", "Post−intervention"], "range": ["#3a7fc0", "#f5891f"]}, "legend": {"orient": "none", "legendX": -267, "legendY": 557, "direction": "horizontal", "title": null, "symbolType": "M-1,-0.09H1V0.09H-1Z M-0.45,-0.45H0.45V0.45H-0.45Z", "symbolSize": 324, "symbolStrokeWidth": 0, "symbolOpacity": 1, "labelFont": "Liberation Sans", "labelFontSize": 14, "labelColor": "#1a1a1a", "labelOffset": 1, "columnPadding": 1}}}},
                {"mark": {"type": "rule", "strokeWidth": 1.3},
                 "encoding": {"x": {"field": "lower", "type": "quantitative"}, "x2": {"field": "upper"}, "y": {"field": "biomarker", "type": "nominal", "axis": null, "scale": {"domain": ["Glucose", "Insulin", "HOMA−IR", "TyG index", "Total cholesterol", "Triglycerides", "LDL−C", "HDL−C", "CRP", "Adiponectin", "Ghrelin", "Peptide YY"], "paddingInner": 0, "paddingOuter": 0}}, "yOffset": {"field": "period", "type": "nominal", "scale": {"domain": ["Pre−intervention", "Post−intervention"], "paddingInner": 0, "paddingOuter": 0}}, "color": {"field": "period", "type": "nominal", "scale": {"domain": ["Pre−intervention", "Post−intervention"], "range": ["#3a7fc0", "#f5891f"]}}}},
                {"transform": [{"filter": "datum.upper > 30"}],
                 "mark": {"type": "point", "shape": "M-2,-1L0,0L-2,1", "filled": false, "opacity": 1, "size": 36, "strokeWidth": 1.2},
                 "encoding": {"x": {"field": "upper", "type": "quantitative"}, "y": {"field": "biomarker", "type": "nominal", "axis": null, "scale": {"domain": ["Glucose", "Insulin", "HOMA−IR", "TyG index", "Total cholesterol", "Triglycerides", "LDL−C", "HDL−C", "CRP", "Adiponectin", "Ghrelin", "Peptide YY"], "paddingInner": 0, "paddingOuter": 0}}, "yOffset": {"field": "period", "type": "nominal", "scale": {"domain": ["Pre−intervention", "Post−intervention"], "paddingInner": 0, "paddingOuter": 0}}, "color": {"field": "period", "type": "nominal", "scale": {"domain": ["Pre−intervention", "Post−intervention"], "range": ["#3a7fc0", "#f5891f"]}}}}
              ]
            }
          ]
        },
        {
          "data": {"name": "C"},
          "title": {"text": "(C)\u00a0\u00a0\u00a0DunedinPACE", "anchor": "start", "frame": "group", "dx": -42, "offset": -12, "font": "Liberation Sans", "fontSize": 19.5, "fontWeight": "bold", "color": "#000000", "baseline": "bottom"},
          "bounds": "flush",
          "spacing": 0,
          "resolve": {"scale": {"color": "independent"}, "legend": {"color": "independent"}},
          "hconcat": [
            {
              "width": 160, "height": 516,
              "title": {"text": ["Cardiometabolic", "Biomarkers"], "anchor": "start", "frame": "group", "offset": -6, "font": "Liberation Sans", "fontSize": 14, "fontWeight": "bold", "color": "#000000", "baseline": "bottom", "lineHeight": 20},
              "layer": [
                {"transform": [{"filter": {"field": "biomarker", "oneOf": ["Glucose", "HOMA−IR", "Total cholesterol", "LDL−C", "CRP", "Ghrelin"]}}, {"filter": {"field": "period", "equal": "Pre−intervention"}}],
                 "mark": {"type": "rect", "color": "#eef2f1"},
                 "encoding": {"x": {"datum": 0, "type": "quantitative", "scale": {"domain": [0, 1], "nice": false}, "axis": null}, "x2": {"datum": 1}, "y": {"field": "biomarker", "type": "nominal", "axis": null, "scale": {"domain": ["Glucose", "Insulin", "HOMA−IR", "TyG index", "Total cholesterol", "Triglycerides", "LDL−C", "HDL−C", "CRP", "Adiponectin", "Ghrelin", "Peptide YY"], "paddingInner": 0, "paddingOuter": 0}}}},
                {"transform": [{"filter": {"field": "period", "equal": "Pre−intervention"}}],
                 "mark": {"type": "text", "align": "left", "baseline": "middle", "font": "Liberation Sans", "fontSize": 13.8, "color": "#1a1a1a"},
                 "encoding": {"x": {"datum": 0.25, "type": "quantitative", "scale": {"domain": [0, 1], "nice": false}, "axis": null}, "y": {"field": "biomarker", "type": "nominal", "axis": null, "scale": {"domain": ["Glucose", "Insulin", "HOMA−IR", "TyG index", "Total cholesterol", "Triglycerides", "LDL−C", "HDL−C", "CRP", "Adiponectin", "Ghrelin", "Peptide YY"], "paddingInner": 0, "paddingOuter": 0}}, "text": {"field": "biomarker", "type": "nominal"}}}
              ]
            },
            {
              "width": 124, "height": 516,
              "title": {"text": ["Intervention", "Period"], "anchor": "start", "frame": "group", "offset": -6, "font": "Liberation Sans", "fontSize": 14, "fontWeight": "bold", "color": "#000000", "baseline": "bottom", "lineHeight": 20},
              "layer": [
                {"transform": [{"filter": {"field": "biomarker", "oneOf": ["Glucose", "HOMA−IR", "Total cholesterol", "LDL−C", "CRP", "Ghrelin"]}}, {"filter": {"field": "period", "equal": "Pre−intervention"}}],
                 "mark": {"type": "rect", "color": "#eef2f1"},
                 "encoding": {"x": {"datum": 0, "type": "quantitative", "scale": {"domain": [0, 1], "nice": false}, "axis": null}, "x2": {"datum": 1}, "y": {"field": "biomarker", "type": "nominal", "axis": null, "scale": {"domain": ["Glucose", "Insulin", "HOMA−IR", "TyG index", "Total cholesterol", "Triglycerides", "LDL−C", "HDL−C", "CRP", "Adiponectin", "Ghrelin", "Peptide YY"], "paddingInner": 0, "paddingOuter": 0}}}},
                {"mark": {"type": "text", "align": "left", "baseline": "middle", "font": "Liberation Sans", "fontSize": 13.8, "color": "#1a1a1a"},
                 "encoding": {"x": {"datum": 0, "type": "quantitative", "scale": {"domain": [0, 1], "nice": false}, "axis": null}, "y": {"field": "biomarker", "type": "nominal", "axis": null, "scale": {"domain": ["Glucose", "Insulin", "HOMA−IR", "TyG index", "Total cholesterol", "Triglycerides", "LDL−C", "HDL−C", "CRP", "Adiponectin", "Ghrelin", "Peptide YY"], "paddingInner": 0, "paddingOuter": 0}}, "yOffset": {"field": "period", "type": "nominal", "scale": {"domain": ["Pre−intervention", "Post−intervention"], "paddingInner": 0, "paddingOuter": 0}}, "text": {"field": "period", "type": "nominal"}}}
              ]
            },
            {
              "width": 147, "height": 516,
              "title": {"text": "Estimate (95% CI)", "anchor": "start", "frame": "group", "offset": 4, "font": "Liberation Sans", "fontSize": 14, "fontWeight": "bold", "color": "#000000", "baseline": "bottom"},
              "layer": [
                {"transform": [{"filter": {"field": "biomarker", "oneOf": ["Glucose", "HOMA−IR", "Total cholesterol", "LDL−C", "CRP", "Ghrelin"]}}, {"filter": {"field": "period", "equal": "Pre−intervention"}}],
                 "mark": {"type": "rect", "color": "#eef2f1"},
                 "encoding": {"x": {"datum": 0, "type": "quantitative", "scale": {"domain": [0, 1], "nice": false}, "axis": null}, "x2": {"datum": 1}, "y": {"field": "biomarker", "type": "nominal", "axis": null, "scale": {"domain": ["Glucose", "Insulin", "HOMA−IR", "TyG index", "Total cholesterol", "Triglycerides", "LDL−C", "HDL−C", "CRP", "Adiponectin", "Ghrelin", "Peptide YY"], "paddingInner": 0, "paddingOuter": 0}}}},
                {"mark": {"type": "text", "align": "left", "baseline": "middle", "font": "Liberation Sans", "fontSize": 13.8, "color": "#1a1a1a"},
                 "encoding": {"x": {"datum": 0, "type": "quantitative", "scale": {"domain": [0, 1], "nice": false}, "axis": null}, "y": {"field": "biomarker", "type": "nominal", "axis": null, "scale": {"domain": ["Glucose", "Insulin", "HOMA−IR", "TyG index", "Total cholesterol", "Triglycerides", "LDL−C", "HDL−C", "CRP", "Adiponectin", "Ghrelin", "Peptide YY"], "paddingInner": 0, "paddingOuter": 0}}, "yOffset": {"field": "period", "type": "nominal", "scale": {"domain": ["Pre−intervention", "Post−intervention"], "paddingInner": 0, "paddingOuter": 0}}, "text": {"field": "ci", "type": "nominal"}}}
              ]
            },
            {
              "width": 52, "height": 516,
              "title": {"text": "FDR", "anchor": "start", "frame": "group", "offset": 4, "font": "Liberation Sans", "fontSize": 14, "fontWeight": "bold", "color": "#000000", "baseline": "bottom"},
              "layer": [
                {"transform": [{"filter": {"field": "biomarker", "oneOf": ["Glucose", "HOMA−IR", "Total cholesterol", "LDL−C", "CRP", "Ghrelin"]}}, {"filter": {"field": "period", "equal": "Pre−intervention"}}],
                 "mark": {"type": "rect", "color": "#eef2f1"},
                 "encoding": {"x": {"datum": 0, "type": "quantitative", "scale": {"domain": [0, 1], "nice": false}, "axis": null}, "x2": {"datum": 1}, "y": {"field": "biomarker", "type": "nominal", "axis": null, "scale": {"domain": ["Glucose", "Insulin", "HOMA−IR", "TyG index", "Total cholesterol", "Triglycerides", "LDL−C", "HDL−C", "CRP", "Adiponectin", "Ghrelin", "Peptide YY"], "paddingInner": 0, "paddingOuter": 0}}}},
                {"mark": {"type": "text", "align": "left", "baseline": "middle", "font": "Liberation Sans", "fontSize": 13.8, "color": "#1a1a1a"},
                 "encoding": {"x": {"datum": 0, "type": "quantitative", "scale": {"domain": [0, 1], "nice": false}, "axis": null}, "y": {"field": "biomarker", "type": "nominal", "axis": null, "scale": {"domain": ["Glucose", "Insulin", "HOMA−IR", "TyG index", "Total cholesterol", "Triglycerides", "LDL−C", "HDL−C", "CRP", "Adiponectin", "Ghrelin", "Peptide YY"], "paddingInner": 0, "paddingOuter": 0}}, "yOffset": {"field": "period", "type": "nominal", "scale": {"domain": ["Pre−intervention", "Post−intervention"], "paddingInner": 0, "paddingOuter": 0}}, "text": {"field": "fdr", "type": "quantitative", "format": ".3f"}}}
              ]
            },
            {
              "width": 184, "height": 516,
              "title": {"text": ["Per 10%", "DunedinPACE increment"], "anchor": "start", "frame": "group", "offset": -6, "font": "Liberation Sans", "fontSize": 14, "fontWeight": "bold", "color": "#000000", "baseline": "bottom", "lineHeight": 20},
              "layer": [
                {"transform": [{"filter": {"field": "biomarker", "oneOf": ["Glucose", "HOMA−IR", "Total cholesterol", "LDL−C", "CRP", "Ghrelin"]}}, {"filter": {"field": "period", "equal": "Pre−intervention"}}],
                 "mark": {"type": "rect", "color": "#eef2f1"},
                 "encoding": {"x": {"datum": -30, "type": "quantitative", "scale": {"domain": [-30, 50], "nice": false, "zero": false, "clamp": true}, "axis": {"values": [-30, -15, 0, 15, 30, 45], "labelOverlap": false}}, "x2": {"datum": 50}, "y": {"field": "biomarker", "type": "nominal", "axis": null, "scale": {"domain": ["Glucose", "Insulin", "HOMA−IR", "TyG index", "Total cholesterol", "Triglycerides", "LDL−C", "HDL−C", "CRP", "Adiponectin", "Ghrelin", "Peptide YY"], "paddingInner": 0, "paddingOuter": 0}}}},
                {"transform": [{"aggregate": [{"op": "count", "as": "n"}]}], "mark": {"type": "rule", "color": "#e0533f", "strokeWidth": 1, "strokeDash": [4, 3]}, "encoding": {"x": {"datum": -15, "type": "quantitative"}}},
                {"transform": [{"aggregate": [{"op": "count", "as": "n"}]}], "mark": {"type": "rule", "color": "#c4c4c4", "strokeWidth": 1, "strokeDash": [2, 2]}, "encoding": {"x": {"datum": 15, "type": "quantitative"}}},
                {"transform": [{"aggregate": [{"op": "count", "as": "n"}]}], "mark": {"type": "rule", "color": "#4d4d4d", "strokeWidth": 1.2}, "encoding": {"x": {"datum": 0, "type": "quantitative"}}},
                {"mark": {"type": "point", "shape": "square", "filled": true, "opacity": 1, "size": 40},
                 "encoding": {"x": {"field": "estimate", "type": "quantitative", "scale": {"domain": [-30, 50], "nice": false, "zero": false, "clamp": true}, "axis": {"values": [-30, -15, 0, 15, 30, 45], "labelOverlap": false}}, "y": {"field": "biomarker", "type": "nominal", "axis": null, "scale": {"domain": ["Glucose", "Insulin", "HOMA−IR", "TyG index", "Total cholesterol", "Triglycerides", "LDL−C", "HDL−C", "CRP", "Adiponectin", "Ghrelin", "Peptide YY"], "paddingInner": 0, "paddingOuter": 0}}, "yOffset": {"field": "period", "type": "nominal", "scale": {"domain": ["Pre−intervention", "Post−intervention"], "paddingInner": 0, "paddingOuter": 0}}, "color": {"field": "period", "type": "nominal", "scale": {"domain": ["Pre−intervention", "Post−intervention"], "range": ["#3a7fc0", "#f5891f"]}, "legend": {"orient": "none", "legendX": -269, "legendY": 552, "direction": "horizontal", "title": null, "symbolType": "M-1,-0.09H1V0.09H-1Z M-0.45,-0.45H0.45V0.45H-0.45Z", "symbolSize": 324, "symbolStrokeWidth": 0, "symbolOpacity": 1, "labelFont": "Liberation Sans", "labelFontSize": 14, "labelColor": "#1a1a1a", "labelOffset": 1, "columnPadding": 1}}}},
                {"mark": {"type": "rule", "strokeWidth": 1.3},
                 "encoding": {"x": {"field": "lower", "type": "quantitative"}, "x2": {"field": "upper"}, "y": {"field": "biomarker", "type": "nominal", "axis": null, "scale": {"domain": ["Glucose", "Insulin", "HOMA−IR", "TyG index", "Total cholesterol", "Triglycerides", "LDL−C", "HDL−C", "CRP", "Adiponectin", "Ghrelin", "Peptide YY"], "paddingInner": 0, "paddingOuter": 0}}, "yOffset": {"field": "period", "type": "nominal", "scale": {"domain": ["Pre−intervention", "Post−intervention"], "paddingInner": 0, "paddingOuter": 0}}, "color": {"field": "period", "type": "nominal", "scale": {"domain": ["Pre−intervention", "Post−intervention"], "range": ["#3a7fc0", "#f5891f"]}}}},
                {"transform": [{"filter": "datum.upper > 50"}],
                 "mark": {"type": "point", "shape": "M-2,-1L0,0L-2,1", "filled": false, "opacity": 1, "size": 36, "strokeWidth": 1.2},
                 "encoding": {"x": {"field": "upper", "type": "quantitative"}, "y": {"field": "biomarker", "type": "nominal", "axis": null, "scale": {"domain": ["Glucose", "Insulin", "HOMA−IR", "TyG index", "Total cholesterol", "Triglycerides", "LDL−C", "HDL−C", "CRP", "Adiponectin", "Ghrelin", "Peptide YY"], "paddingInner": 0, "paddingOuter": 0}}, "yOffset": {"field": "period", "type": "nominal", "scale": {"domain": ["Pre−intervention", "Post−intervention"], "paddingInner": 0, "paddingOuter": 0}}, "color": {"field": "period", "type": "nominal", "scale": {"domain": ["Pre−intervention", "Post−intervention"], "range": ["#3a7fc0", "#f5891f"]}}}}
              ]
            }
          ]
        }
      ]
    }
  ]
}
